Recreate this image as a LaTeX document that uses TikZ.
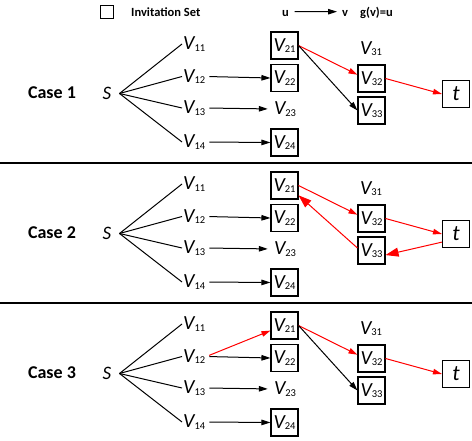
\documentclass[tikz,border=0pt]{standalone}
\usepackage{fontspec}
\setmainfont{Carlito}
\usetikzlibrary{arrows.meta, positioning}

% V with a small index
\newcommand{\vsub}[1]{{\itshape V}{\fontsize{10.5}{10.5}\selectfont\raisebox{-1.5pt}{#1}}}

\begin{document}
\begin{tikzpicture}[
    x=1pt, y=-1pt,
    vert/.style={
        font=\fontsize{20}{20}\selectfont,
        inner sep=1pt
    },
    inv/.style={
        vert,
        draw,
        line width=1.1pt,
        minimum size=27pt,
        inner sep=0pt
    },
    edge/.style={
        line width=1pt,
        -{Triangle[length=9pt,width=5.5pt]}
    },
    hot/.style={edge, red},
    bighot/.style={
        line width=1pt,
        red,
        -{Triangle[length=13pt,width=9pt]}
    },
    caselab/.style={font=\fontsize{18}{18}\selectfont\bfseries},
    key/.style={font=\fontsize{12.5}{12.5}\selectfont\bfseries, inner sep=0pt}
]
\useasboundingbox (0,0) rectangle (472,441);

% Leyenda
\node (keybox) [draw, line width=1pt, minimum size=13pt, inner sep=0pt] at (106.5,12.5) {};
\node (keyinv) [key, anchor=base west] at (131,16.7) {Invitation Set};
\node (keyu) [key, anchor=base] at (285.5,16.7) {u};
\node (keyv) [key, anchor=base] at (345,16.7) {v};
\node (keyg) [key, anchor=base west] at (360,16.7) {g(v)=u};
\draw[edge, shorten <=9pt, shorten >=8pt] ([yshift=2pt]keyu.center) -- ([yshift=2pt]keyv.center);

% Separadores
\draw[line width=1.1pt] (0,163) -- (472,163);
\draw[line width=1.1pt] (0,303) -- (472,303);

% Casos
\foreach \c/\dy in {1/0, 2/140, 3/280} {
  \begin{scope}[shift={(0,\dy)}]
    \node (case-\c) [caselab] at (52,93) {Case \c};
    \node (s-\c) [font=\fontsize{19}{19}\selectfont\itshape, inner ysep=1pt, inner xsep=8pt] at (107,93.5) {S};

    \node (v11-\c) [vert, anchor=west] at (182,44) {\vsub{11}};
    \node (v12-\c) [vert, anchor=west] at (182,76.5) {\vsub{12}};
    \node (v13-\c) [vert, anchor=west] at (182,108) {\vsub{13}};
    \node (v14-\c) [vert, anchor=west] at (182,142) {\vsub{14}};

    \node (v21-\c) [inv] at (284.5,45.5) {\vsub{21}};
    \node (v22-\c) [inv] at (284.5,78) {\vsub{22}};
    \node (v23-\c) [vert] at (285,109) {\vsub{23}};
    \node (v24-\c) [inv] at (284.5,142.5) {\vsub{24}};

    \node (v31-\c) [vert] at (371,48.5) {\vsub{31}};
    \node (v32-\c) [inv] at (371.5,78.5) {\vsub{32}};
    \node (v33-\c) [inv] at (371.5,110.5) {\vsub{33}};

    \node (t-\c) [inv, font=\fontsize{22}{22}\selectfont\itshape] at (456,94) {t};
  \end{scope}

  \draw[line width=1pt] (s-\c.east) -- (v11-\c.west);
  \draw[line width=1pt] (s-\c.east) -- (v12-\c.west);
  \draw[line width=1pt] (s-\c.east) -- (v13-\c.west);
  \draw[line width=1pt] (s-\c.east) -- (v14-\c.west);

  \draw[edge, shorten <=3pt] (v12-\c.east) -- (v22-\c.west);
  \draw[edge, shorten <=3pt, shorten >=5pt] (v13-\c.east) -- (v23-\c.west);
  \draw[edge, shorten <=3pt] (v14-\c.east) -- (v24-\c.west);

  \draw[hot] (v21-\c.east) -- (v32-\c.165);
  \draw[hot] (v32-\c.east) -- (t-\c.west);
}

% Caso 1 y 3
\draw[edge] (v21-1.east) -- (v33-1.west);
\draw[edge] (v21-3.east) -- (v33-3.west);

% Caso 2: vuelta
\draw[bighot] (t-2.210) -- (v33-2.342);
\draw[bighot] (v33-2.170) -- (v21-2.325);

% Caso 3: nueva invitacion
\draw[hot, shorten <=3pt] (v12-3.east) -- (v21-3.200);

\end{tikzpicture}
\end{document}
